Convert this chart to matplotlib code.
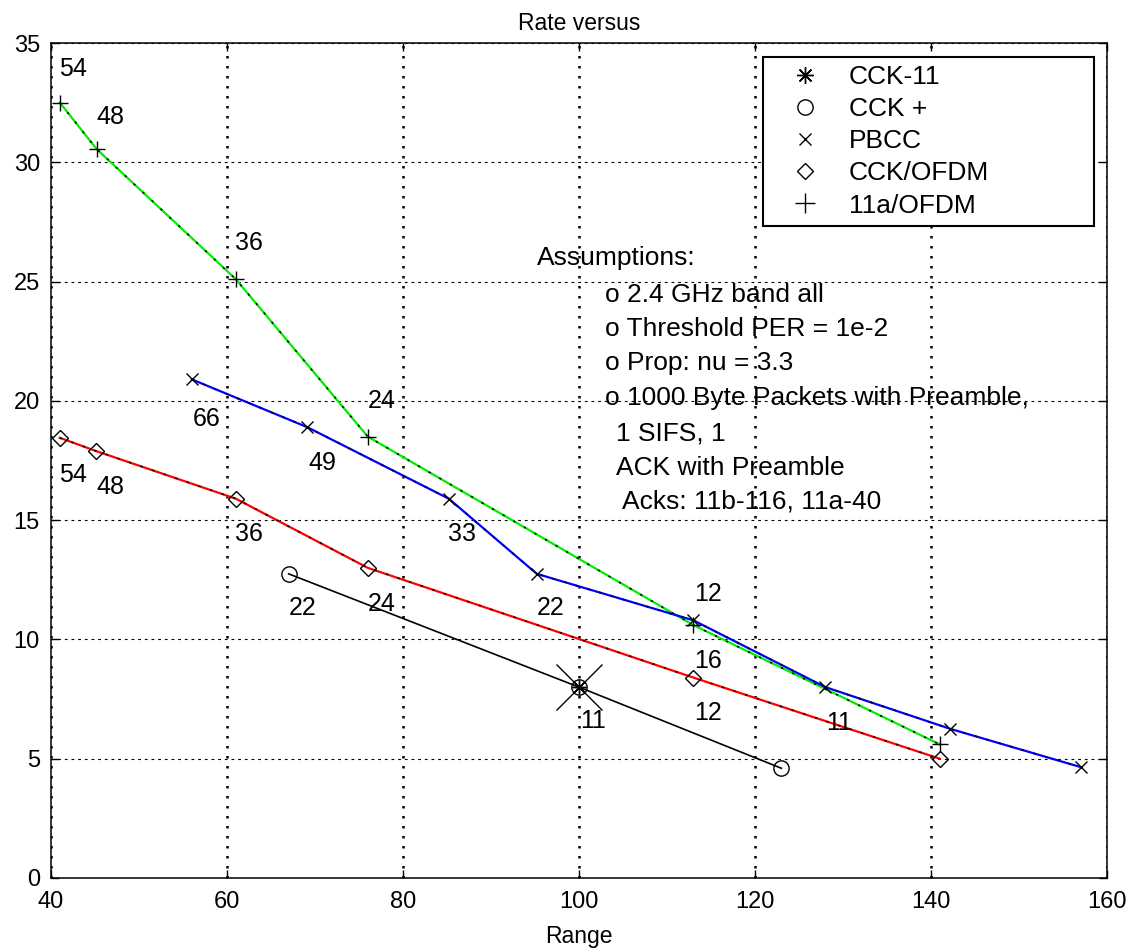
import matplotlib
matplotlib.use("Agg")
import matplotlib.pyplot as plt
from matplotlib.lines import Line2D

plt.rcParams['font.family'] = ['Liberation Sans', 'DejaVu Sans']

# data (range, rate)
range_11a = [41, 45.2, 61, 76, 113, 141]
rate_11a = [32.5, 30.55, 25.1, 18.5, 10.6, 5.6]

range_pbcc = [56, 69.1, 85.2, 95.2, 113, 128, 142.2, 157]
rate_pbcc = [20.9, 18.9, 15.9, 12.75, 10.8, 8.0, 6.25, 4.65]

range_cck_ofdm = [41, 45.1, 61, 76, 113, 141]
rate_cck_ofdm = [18.45, 17.9, 15.9, 13.0, 8.4, 5.0]

range_cck_plus = [67, 100, 123]
rate_cck_plus = [12.75, 8.0, 4.6]

range_cck11 = [100]
rate_cck11 = [8.0]

# rate labels written next to the points: (text, x, y)
labels = [
    ("54", 42.5, 33.9), ("48", 46.8, 31.9), ("36", 62.5, 26.6), ("24", 77.6, 20.0),
    ("66", 57.7, 19.25), ("49", 70.8, 17.4), ("33", 86.7, 14.4), ("22", 96.8, 11.3),
    ("12", 114.7, 11.9), ("16", 114.7, 9.1), ("12", 114.7, 6.9), ("11", 129.5, 6.5),
    ("54", 42.5, 16.9), ("48", 46.8, 16.4), ("36", 62.5, 14.4), ("24", 77.6, 11.5),
    ("22", 68.6, 11.3), ("11", 101.6, 6.6),
]

assumptions = [
    ("Assumptions:", 95.2, 26.0),
    ("o 2.4 GHz band all", 102.9, 24.45),
    ("o Threshold PER = 1e-2", 102.9, 23.0),
    ("o Prop: nu = 3.3", 102.9, 21.58),
    ("o 1000 Byte Packets with Preamble,", 102.9, 20.12),
    ("1 SIFS, 1", 104.2, 18.65),
    ("ACK with Preamble", 104.2, 17.2),
    ("Acks: 11b-116, 11a-40", 104.9, 15.8),
]

W, H = 1134, 951
fig = plt.figure(figsize=(W / 100, H / 100), dpi=100)
ax = fig.add_axes([51 / W, 1 - 878 / H, (1107 - 51) / W, (878 - 43) / H])

dash = (0, (1.5, 6.5))

def colored(xs, ys, color):
    ax.plot(xs, ys, color=color, lw=1.6, zorder=2)
    ax.plot(xs, ys, color='black', lw=1.1, ls=dash, zorder=3)

colored(range_11a, rate_11a, '#00ee00')
colored(range_pbcc, rate_pbcc, '#0000ff')
colored(range_cck_ofdm, rate_cck_ofdm, '#ff0000')
ax.plot(range_cck_plus, rate_cck_plus, color='black', lw=1.2, zorder=2)

asterisk = (8, 2, 0)
mk = dict(ls='none', color='black', mfc='none', mew=1.0, zorder=4)
ax.plot(range_11a, rate_11a, marker='+', ms=11, **mk)
ax.plot(range_pbcc, rate_pbcc, marker='x', ms=8, **mk)
ax.plot(range_cck_ofdm, rate_cck_ofdm, marker='D', ms=8, **mk)
ax.plot(range_cck_plus, rate_cck_plus, marker='o', ms=11, **mk)
ax.plot(range_cck11, rate_cck11, marker=asterisk, ms=10, **mk)
ax.plot(range_cck11, rate_cck11, marker='x', ms=33, **mk)

for txt, x, y in labels:
    ax.text(x, y, txt, fontsize=18, ha='center', va='center', zorder=5)

for txt, x, y in assumptions:
    ax.text(x, y, txt, fontsize=19, ha='left', va='center', zorder=5)

ax.set_xlim(40, 160)
ax.set_ylim(0, 35)
ax.set_xticks(range(40, 161, 20))
ax.set_yticks(range(0, 36, 5))
ax.tick_params(direction='in', top=True, right=True, length=6, width=1, labelsize=17)
ax.tick_params(axis='x', pad=9)
ax.tick_params(axis='y', pad=8)
for s in ax.spines.values():
    s.set_linewidth(1.1)

ax.grid(axis='x', color='black', ls=(0, (1, 3)), lw=1.8)
ax.grid(axis='y', color='black', ls=(0, (2.5, 3.5)), lw=0.8)
ax.set_axisbelow(True)

ax.set_title('Rate versus', fontsize=16.5, pad=9)
ax.set_xlabel('Range', fontsize=16.5, labelpad=9)

handles = [
    Line2D([], [], marker=asterisk, ms=12, **mk),
    Line2D([], [], marker='o', ms=11, **mk),
    Line2D([], [], marker='x', ms=8, **mk),
    Line2D([], [], marker='D', ms=8, **mk),
    Line2D([], [], marker='+', ms=14, **mk),
]
names = ['CCK-11', 'CCK +', 'PBCC', 'CCK/OFDM', '11a/OFDM']
x0 = (763 - 51) / (1107 - 51)
x1 = (1094 - 51) / (1107 - 51)
ytop = (878 - 57) / (878 - 43)
leg = ax.legend(handles, names, loc='upper left', bbox_to_anchor=(x0, ytop - 0.3, x1 - x0, 0.3),
                mode='expand', borderaxespad=0, fontsize=19, frameon=True, fancybox=False,
                edgecolor='black', framealpha=1, handlelength=2.6, handletextpad=0.36,
                labelspacing=0.31, borderpad=0.3)
leg.get_frame().set_linewidth(1.5)
leg.set_zorder(6)

fig.savefig('out.png', dpi=100)
